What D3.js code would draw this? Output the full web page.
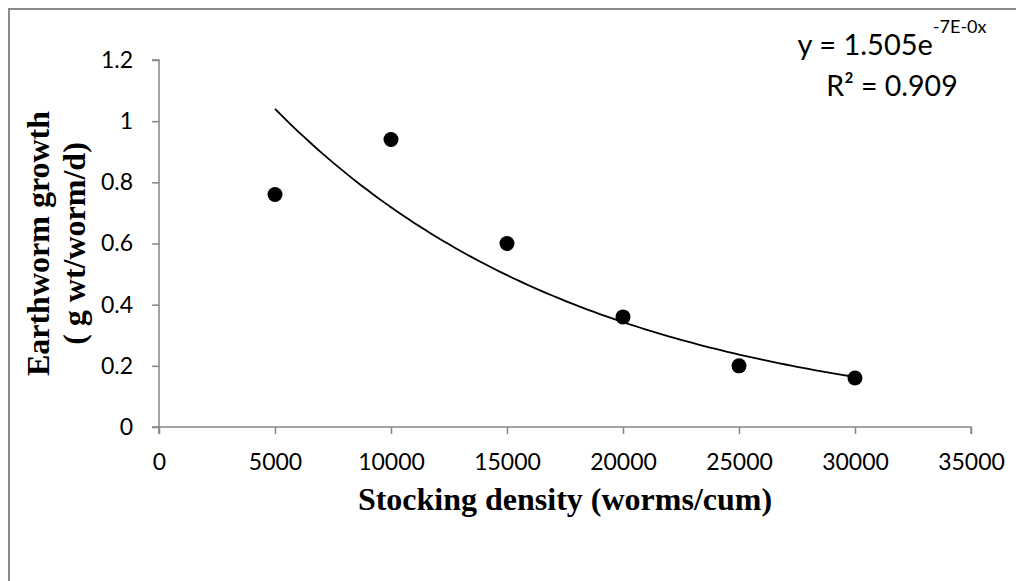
<!DOCTYPE html>
<html>
<head>
<meta charset="utf-8">
<script src="https://cdn.jsdelivr.net/npm/d3@7"></script>
<style>
  body { margin: 0; background: #fff; }
  svg { display: block; }
</style>
</head>
<body>
<svg width="1016" height="581"></svg>
<script>
// data
var density = [5000, 10000, 15000, 20000, 25000, 30000];
var growth = [0.76, 0.94, 0.60, 0.36, 0.20, 0.16];
var xTicks = [0, 5000, 10000, 15000, 20000, 25000, 30000, 35000];
var yTicks = [0, 0.2, 0.4, 0.6, 0.8, 1, 1.2];

var svg = d3.select("svg"),
  width = 1016,
  height = 581;

var x = d3.scaleLinear().domain([0, 35000]).range([159, 971]);
var y = d3.scaleLinear().domain([0, 1.2]).range([427, 60]);

var axisColor = "#868686";
var tickFont = "Lato, 'Open Sans', sans-serif";
var titleFont = "'Liberation Serif', 'Times New Roman', serif";

// outer chart frame (runs off right/bottom edge like the original)
svg.append("path")
  .attr("d", "M9," + (height + 5) + "V9H" + (width + 5))
  .attr("fill", "none")
  .attr("stroke", "#8a8a8a")
  .attr("stroke-width", 2);

// y axis
var yAxis = svg.append("g")
  .attr("transform", "translate(" + x(0) + ",0)")
  .call(d3.axisLeft(y).tickValues(yTicks).tickSize(7).tickPadding(19)
    .tickFormat(function (d) { return d3.format("")(+d.toFixed(1)); }));

// x axis
var xAxis = svg.append("g")
  .attr("transform", "translate(0," + y(0) + ")")
  .call(d3.axisBottom(x).tickValues(xTicks).tickSize(7)
    .tickFormat(d3.format("d")));

[xAxis, yAxis].forEach(function (ax) {
  ax.select(".domain").attr("stroke", axisColor).attr("stroke-width", 1.5);
  ax.selectAll(".tick line").attr("stroke", axisColor).attr("stroke-width", 1.5);
  ax.selectAll(".tick text")
    .attr("fill", "#000")
    .style("font-family", tickFont)
    .style("font-size", "23px");
});
xAxis.selectAll(".tick text").attr("y", 43).attr("dy", 0);
// excel style: axis lines poke past the corner
yAxis.select(".domain").attr("d", "M-7," + y(1.2) + "H0V" + (y(0) + 7));
xAxis.select(".domain").attr("d", "M" + (x(0) - 7) + ",0H" + x(35000) + "V7");

// exponential trendline fitted to the points (least squares on ln y)
var n = density.length,
  mx = d3.mean(density),
  ly = growth.map(Math.log),
  my = d3.mean(ly);
var sxy = d3.sum(density, function (d, i) { return (d - mx) * (ly[i] - my); }),
  sxx = d3.sum(density, function (d) { return (d - mx) * (d - mx); });
var b = sxy / sxx,
  a = Math.exp(my - b * mx);

var trendX = d3.range(density[0], density[n - 1] + 1, 250);
svg.append("path")
  .datum(trendX)
  .attr("fill", "none")
  .attr("stroke", "#000")
  .attr("stroke-width", 1.8)
  .attr("d", d3.line()
    .x(function (d) { return x(d); })
    .y(function (d) { return y(a * Math.exp(b * d)); }));

// points
svg.selectAll("circle.pt")
  .data(density)
  .enter()
  .append("circle")
  .attr("class", "pt")
  .attr("cx", function (d) { return x(d); })
  .attr("cy", function (d, i) { return y(growth[i]); })
  .attr("r", 7.5)
  .attr("fill", "#000");

// equation label
var eq = svg.append("text")
  .attr("x", 892)
  .attr("y", 55)
  .attr("text-anchor", "middle")
  .style("font-family", tickFont)
  .style("font-size", "29px");
eq.append("tspan").text("y = 1.505e");
eq.append("tspan").attr("dy", -22).style("font-size", "18px").text("-7E-0x");

svg.append("text")
  .attr("x", 892)
  .attr("y", 96)
  .attr("text-anchor", "middle")
  .style("font-family", tickFont)
  .style("font-size", "28.5px")
  .text("R² = 0.909");

// axis titles
svg.append("text")
  .attr("x", (x(0) + x(35000)) / 2)
  .attr("y", 510)
  .attr("text-anchor", "middle")
  .style("font-family", titleFont)
  .style("font-weight", "bold")
  .style("font-size", "32px")
  .text("Stocking density (worms/cum)");

var yt = svg.append("text")
  .attr("transform", "translate(49," + (y(0) + y(1.2)) / 2 + ") rotate(-90)")
  .attr("text-anchor", "middle")
  .style("font-family", titleFont)
  .style("font-weight", "bold")
  .style("font-size", "32px");
yt.append("tspan").attr("x", 0).attr("dy", 0).text("Earthworm growth");
yt.append("tspan").attr("x", 0).attr("dy", 36).text("( g wt/worm/d)");
</script>
</body>
</html>
